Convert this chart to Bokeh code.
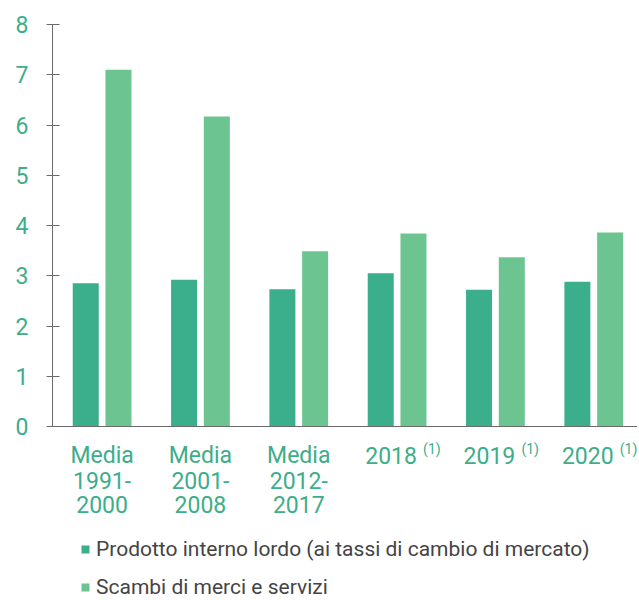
from bokeh.plotting import figure
from bokeh.models import ColumnDataSource, Range1d, FixedTicker, Span, Legend, LegendItem
from bokeh.transform import dodge
from bokeh.core.properties import value
from bokeh.embed import file_html
from bokeh.resources import INLINE

# ---- data ----
categories = ["Media\n1991-\n2000", "Media\n2001-\n2008", "Media\n2012-\n2017", "2018", "2019", "2020"]
notes = ["", "", "", "(1)", "(1)", "(1)"]
pil = [2.85, 2.92, 2.73, 3.05, 2.72, 2.88]
scambi = [7.10, 6.17, 3.49, 3.84, 3.37, 3.86]
y_ticks = [0, 1, 2, 3, 4, 5, 6, 7, 8]
series_names = ["Prodotto interno lordo (ai tassi di cambio di mercato)", "Scambi di merci e servizi"]

DARK = "#3BAE8B"
LIGHT = "#6CC490"
TEXT_GREEN = "#3DAD8A"
AXIS_GREY = "#6a6a6a"
FONT = "Roboto"

W, H = 637, 600
LEFT, TOP = 52, 24
PX_PER_X = 98.33
PX_PER_Y = 50.25
frame_w = W - LEFT
frame_h = H - TOP
x0 = -0.5045
y_top = 8

idx = list(range(len(categories)))
source = ColumnDataSource(dict(x=idx, pil=pil, scambi=scambi))

p = figure(width=W, height=H, output_backend="svg", toolbar_location=None,
           x_range=Range1d(x0, x0 + frame_w / PX_PER_X),
           y_range=Range1d(y_top - frame_h / PX_PER_Y, y_top),
           x_axis_location=None, min_border_left=LEFT, min_border_top=TOP,
           min_border_right=0, min_border_bottom=0)
p.outline_line_color = None
p.grid.visible = False
p.background_fill_color = "white"
p.border_fill_color = "white"

bw = 0.2644
off = 0.1665
r1 = p.vbar(x=dodge("x", -off, range=p.x_range), top="pil", width=bw, source=source,
            fill_color=DARK, line_color=None)
r2 = p.vbar(x=dodge("x", off, range=p.x_range), top="scambi", width=bw, source=source,
            fill_color=LIGHT, line_color=None)

# baseline (x axis line)
p.add_layout(Span(location=0, dimension="width", line_color=AXIS_GREY, line_width=1))

# y axis
ya = p.yaxis[0]
ya.bounds = (0, 8)
ya.ticker = FixedTicker(ticks=y_ticks)
ya.minor_tick_line_color = None
ya.major_tick_in = 7
ya.major_tick_out = 6
ya.axis_line_color = AXIS_GREY
ya.major_tick_line_color = AXIS_GREY
ya.major_label_text_color = TEXT_GREEN
ya.major_label_text_font = FONT
ya.major_label_text_font_size = "23px"
ya.major_label_standoff = 18

# category labels below the baseline
lines = [c.split("\n") for c in categories]
line_y = [-0.585, -1.07, -1.555]
xoffs = [-6 if n else 0 for n in notes]
for k, yy in enumerate(line_y):
    txt = [l[k] if k < len(l) else "" for l in lines]
    p.text(x=idx, y=[yy] * len(idx), text=txt, x_offset=xoffs,
           text_align="center", text_baseline="alphabetic",
           text_font=value(FONT), text_font_size="23px", text_color=TEXT_GREEN)
p.text(x=idx, y=[-0.45] * len(idx), text=notes, x_offset=26,
       text_align="left", text_baseline="alphabetic",
       text_font=value(FONT), text_font_size="14px", text_color=TEXT_GREEN)

legend = Legend(items=[LegendItem(label=series_names[0], renderers=[r1]),
                       LegendItem(label=series_names[1], renderers=[r2])],
                location=(28, 1), orientation="vertical",
                label_text_font=FONT, label_text_font_size="21px", label_text_color="#444444",
                glyph_width=10, glyph_height=10, label_standoff=6,
                padding=0, margin=0, spacing=14,
                border_line_color=None, background_fill_alpha=0)
p.add_layout(legend)

open("out.html", "w").write(file_html(p, INLINE))
